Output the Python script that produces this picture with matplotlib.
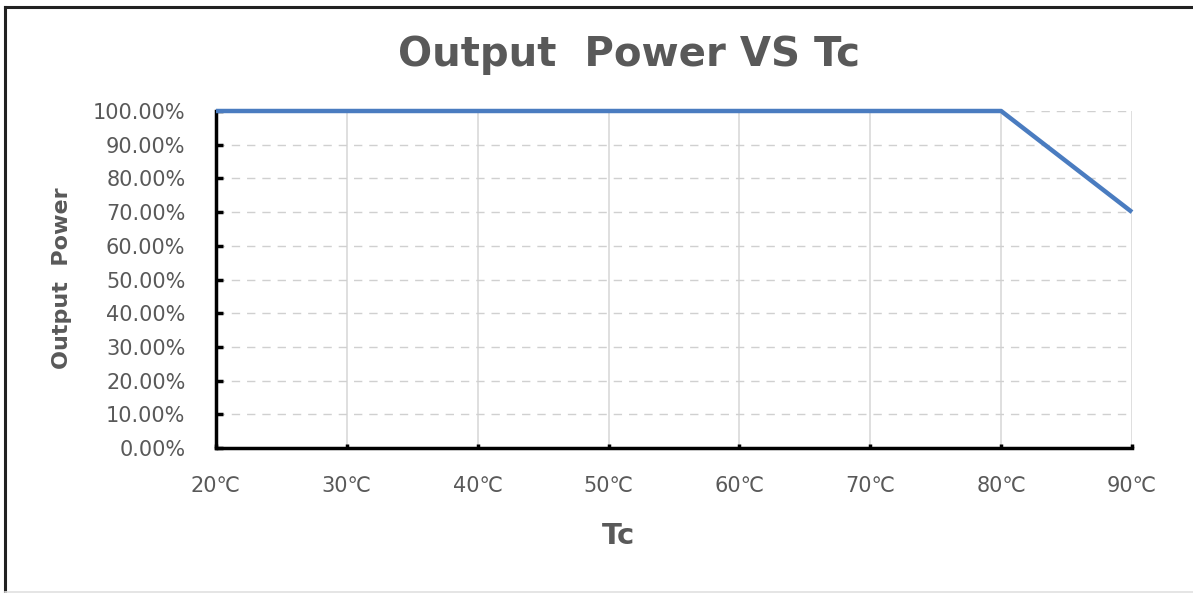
import matplotlib.pyplot as plt
from matplotlib.lines import Line2D
from matplotlib.ticker import PercentFormatter

# data
tc = [20, 80, 90]
power = [1.00, 1.00, 0.70]
x_ticks = [20, 30, 40, 50, 60, 70, 80, 90]
x_labels = ['20℃', '30℃', '40℃', '50℃', '60℃', '70℃', '80℃', '90℃']
y_ticks = [0.0, 0.1, 0.2, 0.3, 0.4, 0.5, 0.6, 0.7, 0.8, 0.9, 1.0]

W, H = 1193, 593
fig = plt.figure(figsize=(W / 100, H / 100), dpi=100)
ax = fig.add_axes([216 / W, 1 - 448 / H, (1132 - 216) / W, (448 - 111) / H])

ax.plot(tc, power, color='#4a7cc0', linewidth=3.2, solid_capstyle='butt', zorder=3, clip_on=False)

ax.set_xlim(20, 90)
ax.set_ylim(0, 1)
ax.set_xticks(x_ticks)
ax.set_xticklabels(x_labels)
ax.set_yticks(y_ticks)
ax.yaxis.set_major_formatter(PercentFormatter(1.0, decimals=2))

# grid: solid vertical, dashed horizontal
ax.grid(axis='x', color='#d9d9d9', linewidth=1.2, linestyle='-')
ax.grid(axis='y', color='#d0d0d0', linewidth=1.0, linestyle=(0, (6, 5)))
ax.set_axisbelow(True)

for s in ['top', 'right']:
    ax.spines[s].set_visible(False)
for s in ['left', 'bottom']:
    ax.spines[s].set_color('black')
    ax.spines[s].set_linewidth(2.5)

ax.tick_params(axis='y', direction='in', length=5, width=2.5, colors='black',
               labelcolor='#595959', labelsize=15, pad=22)
ax.tick_params(axis='x', direction='in', length=3, width=2.5, colors='black',
               labelcolor='#595959', labelsize=15, pad=20)

fig.text(618 / W, 1 - 536 / H, 'Tc', fontsize=21, fontweight='bold',
         color='#595959', ha='center', va='center')
fig.text(62 / W, 1 - 278 / H, 'Output  Power', rotation=90, fontsize=16,
         fontweight='bold', color='#595959', ha='center', va='center')

fig.text(629 / W, 1 - 55 / H, 'Output  Power VS Tc', fontsize=29,
         fontweight='bold', color='#595959', ha='center', va='center')

# outer frame
fig.add_artist(Line2D([5.5 / W, 5.5 / W], [0, 1 - 6.5 / H], color='#222222', linewidth=2.2))
fig.add_artist(Line2D([5.5 / W, 1], [1 - 6.5 / H, 1 - 6.5 / H], color='#222222', linewidth=2.2))
fig.add_artist(Line2D([5.5 / W, 1], [0.8 / H, 0.8 / H], color='#e0e0e0', linewidth=1.2))

fig.savefig('out.png', dpi=100)
